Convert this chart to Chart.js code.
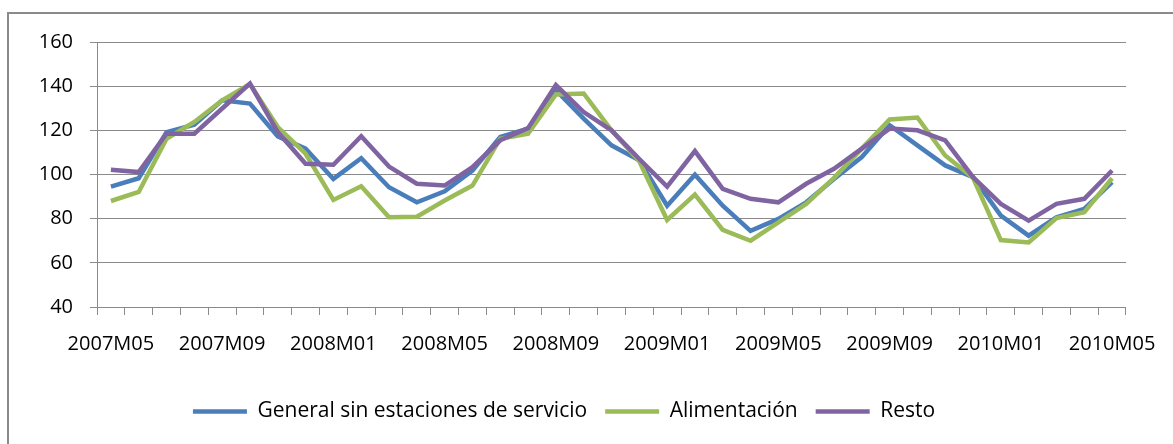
<!DOCTYPE html>
<html>
<head>
<meta charset="utf-8">
<script src="https://cdn.jsdelivr.net/npm/chart.js@4"></script>
<style>
  html, body { margin: 0; padding: 0; background: #fff; overflow: hidden; }
  #marco {
    position: absolute; left: 7px; top: 12px; width: 1200px; height: 480px;
    border: 2px solid #8a8a8a; box-sizing: border-box;
  }
  #caja { position: absolute; left: 0; top: 0; width: 1173px; height: 444px; }
</style>
</head>
<body>
<div id="marco"></div>
<div id="caja"><canvas id="grafico"></canvas></div>
<script>
const meses = [
  "2007M05", "2007M06", "2007M07", "2007M08", "2007M09", "2007M10", "2007M11", "2007M12",
  "2008M01", "2008M02", "2008M03", "2008M04", "2008M05", "2008M06", "2008M07", "2008M08",
  "2008M09", "2008M10", "2008M11", "2008M12", "2009M01", "2009M02", "2009M03", "2009M04",
  "2009M05", "2009M06", "2009M07", "2009M08", "2009M09", "2009M10", "2009M11", "2009M12",
  "2010M01", "2010M02", "2010M03", "2010M04", "2010M05"
];

const general = [94.5, 98.3, 119.2, 122.6, 133.6, 132.1, 117.3, 111.7, 98, 107.4, 94.2, 87.4, 92.4,
  101.8, 117, 120.8, 138.2, 125.3, 113.2, 106.4, 85.9, 99.9, 85.9, 74.5, 79.9, 87.4, 98, 107.9,
  122.3, 113.2, 104.1, 98.8, 81.4, 72.3, 80.6, 84.4, 96.5];

const alimentacion = [88, 92.1, 116.2, 123.8, 133.6, 141, 121.5, 109.4, 88.5, 94.7, 80.6, 80.9, 88.2,
  95, 116.2, 118.5, 136.2, 136.7, 120, 106, 79.4, 90.9, 74.9, 70, 78.3, 86.7, 98.5, 111.7,
  124.9, 125.8, 108.6, 98.5, 70.3, 69.2, 80.3, 82.9, 98.3];

const resto = [102.1, 101.1, 118.5, 118.5, 129.9, 141.2, 119.2, 104.9, 104.4, 117.3, 103.6, 95.8, 95,
  103.3, 115.5, 121, 140.5, 128.3, 120, 107, 94.5, 110.6, 93.5, 89, 87.4, 95.8, 102.6, 111.7,
  120.8, 120, 115.5, 98.8, 86.7, 79.1, 86.7, 89, 101.8];

const nombres = ["General sin estaciones de servicio", "Alimentación", "Resto"];
const colores = ["#4a7ebb", "#9bbb59", "#8064a2"];

const gris = "#8a8a8a";
const fuente = { family: "Open Sans", size: 20 };

function serie(i, datos) {
  return {
    label: nombres[i],
    data: datos,
    borderColor: colores[i],
    backgroundColor: colores[i],
    borderWidth: 4.5,
    pointRadius: 0,
    tension: 0,
    fill: false,
    order: 2 - i
  };
}

new Chart(document.getElementById("grafico"), {
  type: "line",
  data: {
    labels: meses,
    datasets: [serie(0, general), serie(1, alimentacion), serie(2, resto)]
  },
  options: {
    responsive: true,
    maintainAspectRatio: false,
    animation: false,
    layout: { padding: { left: 0, top: 42, right: 45, bottom: 12 } },
    plugins: {
      tooltip: { enabled: false },
      legend: {
        position: "bottom",
        labels: {
          usePointStyle: true,
          pointStyle: "line",
          pointStyleWidth: 54,
          color: "#000",
          font: { family: "Open Sans", size: 21 },
          padding: 18,
          sort: (a, b) => a.datasetIndex - b.datasetIndex
        }
      }
    },
    scales: {
      x: {
        type: "category",
        offset: true,
        afterFit: s => { s.height = 76; },
        grid: { offset: true, drawOnChartArea: false, color: gris, tickLength: 8 },
        border: { color: gris },
        ticks: {
          autoSkip: false,
          maxRotation: 0,
          padding: 17,
          color: "#000",
          font: fuente,
          callback: (v, i) => (i % 4 === 0 ? meses[i] : "")
        }
      },
      y: {
        min: 40,
        max: 160,
        afterFit: s => { s.width = 97; },
        grid: { color: gris, tickLength: 7 },
        border: { color: gris },
        ticks: { stepSize: 20, padding: 17, color: "#000", font: fuente }
      }
    }
  }
});
</script>
</body>
</html>
